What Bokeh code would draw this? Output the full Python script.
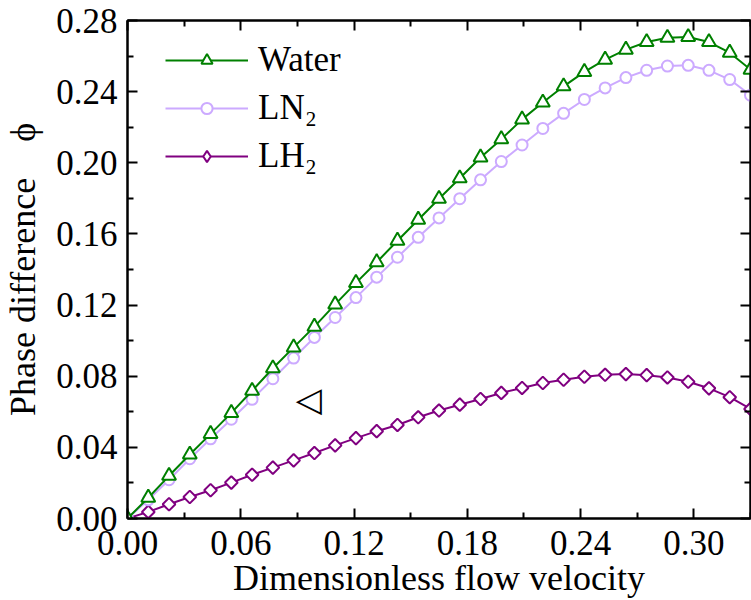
from bokeh.plotting import figure
from bokeh.models import (Range1d, FixedTicker, LinearAxis, Legend, LegendItem, Label,
                          NumeralTickFormatter, CustomJSTickFormatter)
from bokeh.embed import file_html
from bokeh.resources import INLINE
import numpy as np

# ---------------- data ----------------
velocity = [0.000, 0.011, 0.022, 0.033, 0.044, 0.055, 0.066, 0.077, 0.088, 0.099,
            0.110, 0.121, 0.132, 0.143, 0.154, 0.165, 0.176, 0.187, 0.198, 0.209,
            0.220, 0.231, 0.242, 0.253, 0.264, 0.275, 0.286, 0.297, 0.308, 0.319, 0.330]

water = [0.0000, 0.0117, 0.0240, 0.0360, 0.0476, 0.0594, 0.0718, 0.0845, 0.0962, 0.1079,
         0.1204, 0.1325, 0.1441, 0.1562, 0.1680, 0.1798, 0.1913, 0.2030, 0.2133, 0.2244,
         0.2339, 0.2430, 0.2511, 0.2580, 0.2636, 0.2679, 0.2703, 0.2707, 0.2679, 0.2619, 0.2524]

ln2 = [0.0000, 0.0105, 0.0218, 0.0336, 0.0448, 0.0558, 0.0670, 0.0786, 0.0902, 0.1018,
       0.1130, 0.1242, 0.1357, 0.1469, 0.1581, 0.1690, 0.1798, 0.1904, 0.2007, 0.2100,
       0.2193, 0.2278, 0.2356, 0.2421, 0.2479, 0.2520, 0.2544, 0.2548, 0.2520, 0.2468, 0.2380]

lh2 = [0.0000, 0.0037, 0.0080, 0.0121, 0.0159, 0.0202, 0.0246, 0.0286, 0.0327, 0.0368,
       0.0411, 0.0452, 0.0491, 0.0526, 0.0569, 0.0607, 0.0640, 0.0672, 0.0706, 0.0734,
       0.0762, 0.0780, 0.0797, 0.0808, 0.0812, 0.0806, 0.0793, 0.0769, 0.0732, 0.0682, 0.0616]

x_ticks = [0.00, 0.06, 0.12, 0.18, 0.24, 0.30]
x_minor = [0.03, 0.09, 0.15, 0.21, 0.27, 0.33]
y_ticks = [0.00, 0.04, 0.08, 0.12, 0.16, 0.20, 0.24, 0.28]
y_minor = [0.02, 0.06, 0.10, 0.14, 0.18, 0.22, 0.26]

labels = ["Water", "LN\u2082", "LH\u2082"]
x_label = "Dimensionless flow velocity"
y_label = "Phase difference\u00a0\u00a0\u00a0\u00a0\u03d5"
marker_note = "\u25c1"
note_pos = (0.096, 0.067)

# ---------------- styles ----------------
FONT = "Liberation Serif"
C_WATER = "#008000"
C_LN2 = "#CCAAFF"
C_LH2 = "#800080"

p = figure(width=751, height=600,
           x_range=Range1d(0, 0.33), y_range=Range1d(0, 0.28),
           output_backend="svg", toolbar_location=None,
           min_border_left=127, min_border_right=1, min_border_top=20, min_border_bottom=80)
p.background_fill_color = "white"
p.border_fill_color = "white"
p.outline_line_color = "black"
p.outline_line_width = 2
p.xgrid.visible = False
p.ygrid.visible = False


def style_axis(ax, show_labels):
    ax.axis_line_width = 2
    ax.axis_line_color = "black"
    ax.major_tick_line_width = 2
    ax.minor_tick_line_width = 2
    ax.major_tick_in = 10
    ax.major_tick_out = 0
    ax.minor_tick_in = 6
    ax.minor_tick_out = 0
    if show_labels:
        ax.formatter = NumeralTickFormatter(format="0.00")
        ax.major_label_text_font = FONT
        ax.major_label_text_font_size = "35px"
        ax.major_label_text_color = "black"
        ax.axis_label_text_font = FONT
        ax.axis_label_text_font_size = "36px"
        ax.axis_label_text_font_style = "normal"
        ax.axis_label_text_color = "black"
    else:
        ax.formatter = CustomJSTickFormatter(code="return ''")
        ax.major_label_text_font_size = "1px"
        ax.major_label_standoff = 0


xa = p.xaxis[0]
xa.ticker = FixedTicker(ticks=x_ticks, minor_ticks=x_minor)
xa.axis_label = x_label
style_axis(xa, True)
xa.major_label_standoff = 12
xa.axis_label_standoff = 0

ya = p.yaxis[0]
ya.ticker = FixedTicker(ticks=y_ticks, minor_ticks=y_minor)
ya.axis_label = y_label
style_axis(ya, True)
ya.major_label_standoff = 10
ya.axis_label_standoff = 10

top = LinearAxis(ticker=FixedTicker(ticks=x_ticks, minor_ticks=x_minor))
style_axis(top, False)
p.add_layout(top, "above")
right = LinearAxis(ticker=FixedTicker(ticks=y_ticks, minor_ticks=y_minor))
style_axis(right, False)
p.add_layout(right, "right")

# ---------------- series ----------------
r_lh2_l = p.line(velocity, lh2, line_color=C_LH2, line_width=2)
# diamond glyph used as the legend key (hidden under the rotated squares below)
r_lh2_key = p.scatter(velocity, lh2, marker="diamond", size=10,
                      line_color=C_LH2, fill_color="white", line_width=2)
r_lh2_m = p.scatter(velocity, lh2, marker="square", angle=np.pi / 4, size=9,
                    line_color=C_LH2, fill_color="white", line_width=2)
r_ln2_l = p.line(velocity, ln2, line_color=C_LN2, line_width=2)
r_ln2_m = p.scatter(velocity, ln2, marker="circle", size=11,
                    line_color=C_LN2, fill_color="white", line_width=2)
r_w_l = p.line(velocity, water, line_color=C_WATER, line_width=2)
r_w_m = p.scatter(velocity, water, marker="triangle", size=14,
                  line_color=C_WATER, fill_color="white", line_width=2)

legend = Legend(items=[
    LegendItem(label=labels[0], renderers=[r_w_l, r_w_m]),
    LegendItem(label=labels[1], renderers=[r_ln2_l, r_ln2_m]),
    LegendItem(label=labels[2], renderers=[r_lh2_l, r_lh2_key]),
], location=(38, 340))
legend.background_fill_alpha = 0
legend.border_line_color = None
legend.padding = 0
legend.margin = 0
legend.spacing = 4
legend.glyph_width = 83
legend.glyph_height = 28
legend.label_height = 44
legend.label_standoff = 10
legend.label_text_font = FONT
legend.label_text_font_size = "35px"
legend.label_text_color = "black"
p.add_layout(legend)

note = Label(x=note_pos[0], y=note_pos[1], text=marker_note,
             text_font="DejaVu Sans", text_font_size="34px",
             text_align="center", text_baseline="middle", text_color="black")
p.add_layout(note)

open("out.html", "w").write(file_html(p, INLINE))
